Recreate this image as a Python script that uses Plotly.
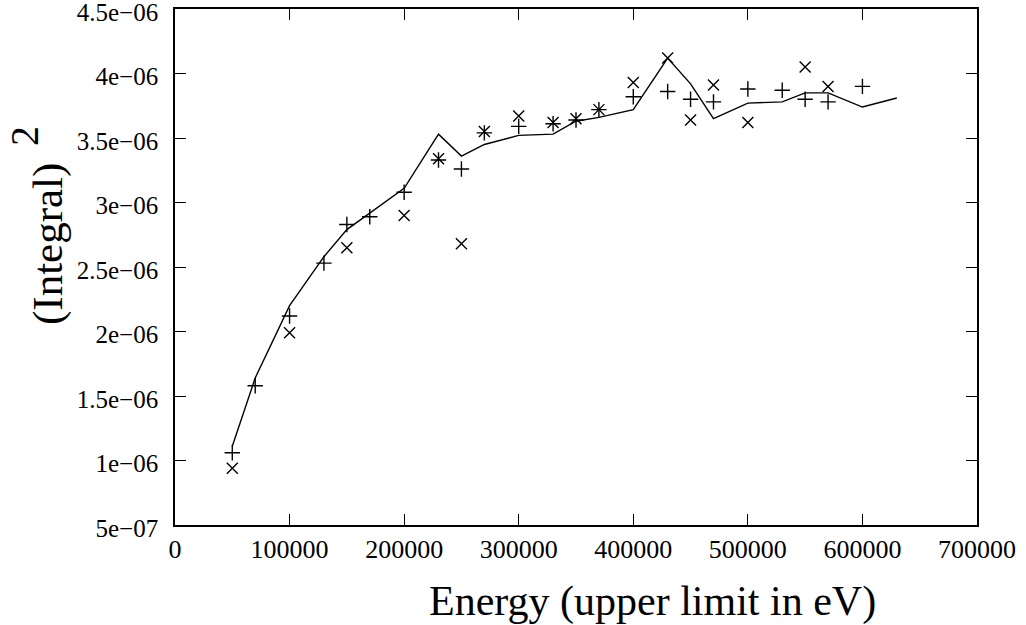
import plotly.graph_objects as go

# Data
plus_x = [50000, 70000, 100000, 130000, 150000, 170000, 200000, 230000, 250000, 270000,
          300000, 330000, 350000, 370000, 400000, 430000, 450000, 470000, 500000, 530000,
          550000, 570000, 600000]
plus_y = [1.06e-6, 1.58e-6, 2.12e-6, 2.53e-6, 2.83e-6, 2.89e-6, 3.08e-6, 3.33e-6, 3.26e-6, 3.54e-6,
          3.59e-6, 3.61e-6, 3.64e-6, 3.72e-6, 3.82e-6, 3.86e-6, 3.80e-6, 3.78e-6, 3.88e-6, 3.87e-6,
          3.80e-6, 3.78e-6, 3.90e-6]

cross_x = [50000, 100000, 150000, 200000, 230000, 250000, 270000, 300000, 330000, 350000,
           370000, 400000, 430000, 450000, 470000, 500000, 550000, 570000]
cross_y = [0.94e-6, 1.99e-6, 2.65e-6, 2.90e-6, 3.34e-6, 2.68e-6, 3.55e-6, 3.67e-6, 3.62e-6, 3.65e-6,
           3.72e-6, 3.93e-6, 4.12e-6, 3.64e-6, 3.91e-6, 3.62e-6, 4.05e-6, 3.90e-6]

line_x = [50000, 70000, 100000, 130000, 150000, 170000, 200000, 230000, 250000, 270000,
          300000, 330000, 350000, 370000, 400000, 430000, 450000, 470000, 500000, 530000,
          550000, 570000, 600000, 630000]
line_y = [1.11e-6, 1.64e-6, 2.20e-6, 2.58e-6, 2.79e-6, 2.92e-6, 3.11e-6, 3.53e-6, 3.36e-6, 3.45e-6,
          3.52e-6, 3.53e-6, 3.63e-6, 3.66e-6, 3.72e-6, 4.12e-6, 3.92e-6, 3.65e-6, 3.77e-6, 3.78e-6,
          3.85e-6, 3.85e-6, 3.74e-6, 3.81e-6]

x_ticks = [0, 100000, 200000, 300000, 400000, 500000, 600000, 700000]
x_ticktext = ["0", "100000", "200000", "300000", "400000", "500000", "600000", "700000"]
y_ticks = [5e-7, 1e-6, 1.5e-6, 2e-6, 2.5e-6, 3e-6, 3.5e-6, 4e-6, 4.5e-6]
y_ticktext = ["5e\u221207", "1e\u221206", "1.5e\u221206", "2e\u221206", "2.5e\u221206",
              "3e\u221206", "3.5e\u221206", "4e\u221206", "4.5e\u221206"]

FONT = "Liberation Serif, Times New Roman, serif"

W, H = 1026, 625
L, R, T, B = 175, 49, 9, 100
PW = W - L - R
PH = H - T - B


def px_x(p):
    return (p - L) / PW


def px_y(p):
    return (H - B - p) / PH


fig = go.Figure()
fig.add_trace(go.Scatter(x=line_x, y=line_y, mode="lines",
                         line=dict(color="black", width=1.4), showlegend=False))
fig.add_trace(go.Scatter(x=plus_x, y=plus_y, mode="markers",
                         marker=dict(symbol="cross-thin", size=11, color="black",
                                     line=dict(color="black", width=1.4)), showlegend=False))
fig.add_trace(go.Scatter(x=cross_x, y=cross_y, mode="markers",
                         marker=dict(symbol="x-thin", size=11, color="black",
                                     line=dict(color="black", width=1.4)), showlegend=False))

fig.update_layout(
    width=W, height=H,
    margin=dict(l=L, r=R, t=T, b=B, autoexpand=False),
    paper_bgcolor="white", plot_bgcolor="white",
    font=dict(family=FONT, color="black", size=26),
    xaxis=dict(range=[0, 700000], tickvals=x_ticks, ticktext=x_ticktext,
               ticks="inside", ticklen=11, tickwidth=1.2, tickcolor="black",
               showline=True, linecolor="black", linewidth=1.6, mirror="allticks",
               showgrid=False, zeroline=False, tickfont=dict(size=26, family=FONT),
               ticklabelstandoff=0, ticklabeloverflow="allow", automargin=False),
    yaxis=dict(range=[5e-7 - 1e-12, 4.5e-6 + 1e-12], tickvals=y_ticks, ticktext=y_ticktext,
               ticks="inside", ticklen=11, tickwidth=1.2, tickcolor="black",
               showline=True, linecolor="black", linewidth=1.6, mirror="allticks",
               showgrid=False, zeroline=False, tickfont=dict(size=25, family=FONT),
               ticklabelstandoff=10, ticklabelshift=3, ticklabeloverflow="allow",
               automargin=False),
)

fig.add_annotation(text="Energy (upper limit in eV)", xref="paper", yref="paper",
                   x=px_x(652), y=px_y(601), xanchor="center", yanchor="middle",
                   showarrow=False, font=dict(size=42, family=FONT, color="black"))
fig.add_annotation(text="(Integral)", xref="paper", yref="paper",
                   x=px_x(48), y=px_y(244), xanchor="center", yanchor="middle",
                   textangle=-90, showarrow=False, font=dict(size=43, family=FONT, color="black"))
fig.add_annotation(text="2", xref="paper", yref="paper",
                   x=px_x(24), y=px_y(136), xanchor="center", yanchor="middle",
                   textangle=-90, showarrow=False, font=dict(size=40, family=FONT, color="black"))

fig.write_html("out.html", config={"displayModeBar": False},
               post_script="document.body.style.margin='0';document.body.style.overflow='hidden';")
